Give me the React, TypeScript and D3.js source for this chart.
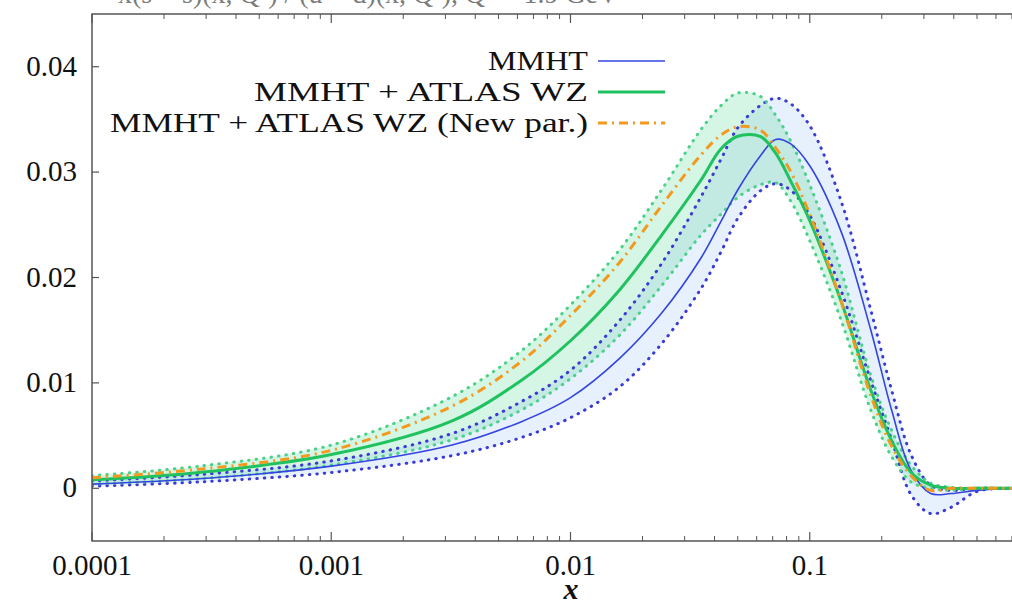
import React from "react";
import * as d3 from "d3";

// x grid (log axis)
const xGrid = [1e-4, 2.8e-4, 1e-3, 3.2e-3, 6.2e-3, 0.01, 0.016, 0.024, 0.035, 0.0425, 0.05, 0.062, 0.072, 0.083, 0.1, 0.135, 0.18, 0.22, 0.265, 0.32, 0.39, 0.5, 0.7, 1.0];

const mmhtCentral = [0.0004, 0.0009, 0.0021, 0.0041, 0.0063, 0.0086, 0.0123, 0.0166, 0.0218, 0.0253, 0.0283, 0.0315, 0.0331, 0.0327, 0.0306, 0.0244, 0.015, 0.0074, 0.0017, -0.0005, -0.0005, -0.0002, 0, 0];
const mmhtUpper = [0.0007, 0.0013, 0.0026, 0.0052, 0.0082, 0.0112, 0.0159, 0.0213, 0.0276, 0.0312, 0.0342, 0.0363, 0.037, 0.0365, 0.0344, 0.0273, 0.0169, 0.0093, 0.0032, 0.0003, -0.0002, 0, 0, 0];
const mmhtLower = [0.0002, 0.0006, 0.0015, 0.0031, 0.0048, 0.0067, 0.0096, 0.0137, 0.0189, 0.0224, 0.0256, 0.0282, 0.0289, 0.0283, 0.0259, 0.0188, 0.0102, 0.0046, -0.0006, -0.0024, -0.0018, -0.0003, 0, 0];

const wzCentral = [0.0008, 0.0015, 0.0032, 0.0064, 0.0102, 0.014, 0.0188, 0.024, 0.0292, 0.0322, 0.0334, 0.0334, 0.0318, 0.0292, 0.0254, 0.0178, 0.0093, 0.0045, 0.0015, 0.0003, 0, 0, 0, 0];
const wzUpper = [0.0012, 0.0021, 0.0041, 0.0087, 0.013, 0.0174, 0.0226, 0.0283, 0.034, 0.0363, 0.0375, 0.0372, 0.0354, 0.033, 0.0288, 0.0207, 0.0107, 0.0055, 0.0022, 0.0005, 0.0001, 0, 0, 0];
const wzLower = [0.0004, 0.0009, 0.0022, 0.0046, 0.0074, 0.0104, 0.0145, 0.0192, 0.024, 0.026, 0.0276, 0.0288, 0.029, 0.0273, 0.0235, 0.016, 0.0074, 0.003, 0.0006, 0, -0.0002, 0, 0, 0];

const newParCentral = [0.001, 0.0018, 0.0036, 0.0078, 0.012, 0.0164, 0.0214, 0.0268, 0.0316, 0.0335, 0.0343, 0.034, 0.0323, 0.0301, 0.026, 0.0178, 0.0088, 0.004, 0.0012, -0.0002, 0, 0, 0, 0];

const yTicks = [0, 0.01, 0.02, 0.03, 0.04];
const yTickLabels = ["0", "0.01", "0.02", "0.03", "0.04"];
const xTicks = [1e-4, 1e-3, 1e-2, 1e-1];
const xTickLabels = ["0.0001", "0.001", "0.01", "0.1"];
const legendLabels = ["MMHT", "MMHT + ATLAS WZ", "MMHT + ATLAS WZ (New par.)"];
const titleText = "x(s + s\u0304)(x, Q\u00b2) / (\u016b + d\u0304)(x, Q\u00b2), Q\u00b2 = 1.9 GeV\u00b2";

const FONT = "'Liberation Serif', 'DejaVu Serif', serif";

export default function App() {
  const W = 1012, H = 606;
  const L = 92, R = 1049, T = 14, B = 541;
  const x = d3.scaleLog().domain([1e-4, 1]).range([L, R]);
  const y = d3.scaleLinear().domain([-0.005, 0.045]).range([B, T]);

  const curve = d3.curveCatmullRom.alpha(0.5);
  const line = (vals: number[]) =>
    d3.line<number>().x((_, i) => x(xGrid[i])).y((d) => y(d)).curve(curve)(vals) || "";
  const area = (lo: number[], hi: number[]) =>
    d3.area<number>().x((_, i) => x(xGrid[i])).y0((_, i) => y(lo[i])).y1((_, i) => y(hi[i])).curve(curve)(lo) || "";

  const minorTicks = x.ticks().filter((t) => !xTicks.some((m) => Math.abs(m - t) / m < 1e-6));

  const blueC = "#3444e0";
  const blueDot = "#3a3ad6";
  const greenC = "#1fc25f";
  const greenDot = "#4ccf8a";
  const orange = "#f29a1f";

  const legendMid = [61, 92, 123];
  const legendWidth = [100, 334, 478];
  const legendLines = [
    { stroke: blueC, width: 1.6, dash: "" },
    { stroke: greenC, width: 3, dash: "" },
    { stroke: orange, width: 3, dash: "9 5 2 5" },
  ];

  return (
    <svg width={W} height={H} style={{ position: "absolute", left: 0, top: 0, background: "#fff" }} fontFamily={FONT}>
      <defs>
        <clipPath id="plotclip">
          <rect x={L} y={T} width={R - L} height={B - T} />
        </clipPath>
      </defs>
      <text x={118} y={3} fontSize={28} fill="#444" opacity={0.7}>{titleText}</text>

      <g clipPath="url(#plotclip)">
        <path d={area(mmhtLower, mmhtUpper)} fill="#6aa6f0" fillOpacity={0.16} />
        <path d={area(wzLower, wzUpper)} fill="#3fd08a" fillOpacity={0.22} />
        <path d={line(mmhtUpper)} fill="none" stroke={blueDot} strokeWidth={3} strokeDasharray="0.5 7" strokeLinecap="round" />
        <path d={line(mmhtLower)} fill="none" stroke={blueDot} strokeWidth={3} strokeDasharray="0.5 7" strokeLinecap="round" />
        <path d={line(wzUpper)} fill="none" stroke={greenDot} strokeWidth={3} strokeDasharray="0.5 7" strokeLinecap="round" />
        <path d={line(wzLower)} fill="none" stroke={greenDot} strokeWidth={3} strokeDasharray="0.5 7" strokeLinecap="round" />
        <path d={line(mmhtCentral)} fill="none" stroke={blueC} strokeWidth={1.6} />
        <path d={line(wzCentral)} fill="none" stroke={greenC} strokeWidth={3} />
        <path d={line(newParCentral)} fill="none" stroke={orange} strokeWidth={3} strokeDasharray="9 5 2 5" />
      </g>

      {/* frame */}
      <rect x={L} y={T} width={R - L} height={B - T} fill="none" stroke="#555" strokeWidth={1.5} />

      {/* x ticks */}
      {xTicks.map((t) => (
        <g key={"xm" + t}>
          <line x1={x(t)} x2={x(t)} y1={B} y2={B - 9} stroke="#555" strokeWidth={1.2} />
          <line x1={x(t)} x2={x(t)} y1={T} y2={T + 9} stroke="#555" strokeWidth={1.2} />
        </g>
      ))}
      {minorTicks.map((t) => (
        <g key={"xn" + t}>
          <line x1={x(t)} x2={x(t)} y1={B} y2={B - 5} stroke="#555" strokeWidth={1} />
          <line x1={x(t)} x2={x(t)} y1={T} y2={T + 5} stroke="#555" strokeWidth={1} />
        </g>
      ))}
      {xTicks.map((t, i) => (
        <text key={"xl" + t} x={x(t)} y={575} fontSize={29} textAnchor="middle" fill="#111">{xTickLabels[i]}</text>
      ))}

      {/* y ticks */}
      {yTicks.map((t, i) => (
        <g key={"y" + t}>
          <line x1={L} x2={L + 7} y1={y(t)} y2={y(t)} stroke="#555" strokeWidth={1.2} />
          <text x={77} y={y(t) + 9} fontSize={29} textAnchor="end" fill="#111">{yTickLabels[i]}</text>
        </g>
      ))}

      {/* axis label */}
      <text x={571} y={599} fontSize={30} fontWeight="bold" fontStyle="italic" textAnchor="middle" fill="#111">x</text>

      {/* legend */}
      {legendLabels.map((lab, i) => (
        <g key={lab}>
          <text x={588} y={legendMid[i] + 9} fontSize={27} textAnchor="end" fill="#111" textLength={legendWidth[i]} lengthAdjust="spacingAndGlyphs">{lab}</text>
          <line x1={598} x2={665} y1={legendMid[i]} y2={legendMid[i]} stroke={legendLines[i].stroke} strokeWidth={legendLines[i].width} strokeDasharray={legendLines[i].dash} />
        </g>
      ))}
    </svg>
  );
}
